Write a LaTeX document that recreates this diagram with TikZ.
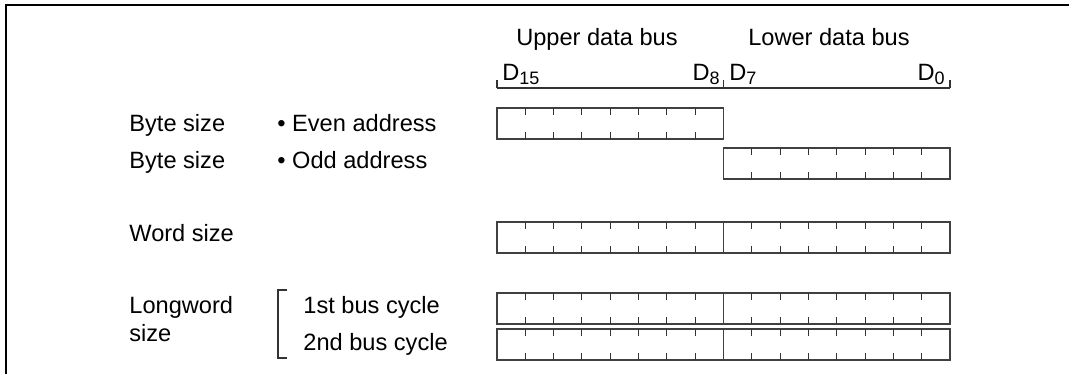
\documentclass[tikz,border=0pt]{standalone}
\usepackage{fontspec}
\setmainfont{Liberation Sans}
\usetikzlibrary{positioning,calc}

\newcommand{\byteticks}[1]{%
  \foreach \k in {1,...,7} {
    \draw[tick] ($(#1.north west)!\k/8!(#1.north east)$) -- ++(0,7);
    \draw[tick] ($(#1.south west)!\k/8!(#1.south east)$) -- ++(0,-7);
  }}
\newcommand{\dsub}[1]{D\raisebox{-0.28ex}{\fontsize{9}{10}\selectfont #1}}

\begin{document}
\begin{tikzpicture}[
    x=0.5pt, y=-0.5pt,
    lbl/.style={anchor=base west, inner sep=0pt, font=\fontsize{11.8}{14}\selectfont},
    bytebox/.style={rectangle, draw=black!75, line width=0.9pt, minimum width=113.25pt, minimum height=15.5pt, inner sep=0pt, outer sep=0pt, anchor=north west},
    tick/.style={line width=0.5pt, black!80},
    busline/.style={line width=0.6pt, black!80},
    frame/.style={line width=1.4pt}
]
\useasboundingbox (0,0) rectangle (1069,374);

% frame
\coordinate (ftop) at (6,5);
\coordinate (fright) at (1069,5);
\coordinate (fbot) at (6,374);
\draw[frame] (fbot) -- (ftop) -- (fright);

% bus heading
\node[lbl, anchor=base] (upper) at (597,46) {Upper data bus};
\node[lbl, anchor=base] (lower) at (829,46) {Lower data bus};
\coordinate (bus15) at (497,88);
\coordinate (bus8) at (723.5,88);
\coordinate (bus0) at (950,88);
\draw[busline] (bus15) -- (bus0);
\foreach \c in {bus15,bus8,bus0} \draw[busline] (\c) -- ++(0,-8);
\node[lbl] (d15) at (502,81) {\dsub{15}};
\node[lbl, anchor=base east] (d8) at (720,81) {\dsub{8}};
\node[lbl] (d7) at (729,81) {\dsub{7}};
\node[lbl, anchor=base east] (d0) at (945,81) {\dsub{0}};

% row labels
\node[lbl] (byteeven) at (129,132) {Byte size};
\node[lbl] (even) at (277,132) {\textbullet\ Even address};
\node[lbl] (byteodd) at (129,168) {Byte size};
\node[lbl] (odd) at (277,168) {\textbullet\ Odd address};
\node[lbl] (word) at (129,241) {Word size};
\node[lbl] (long) at (129,313) {Longword};
\node[lbl] (longb) at (129,341) {size};
\node[lbl] (cyc1) at (303,313) {1st bus cycle};
\node[lbl] (cyc2) at (303,350) {2nd bus cycle};

% bracket
\coordinate (brt) at (278,290);
\coordinate (brb) at (278,358);
\draw[busline] ($(brt)+(9,0)$) -- (brt) -- (brb) -- ++(9,0);

% byte boxes
\node[bytebox] (evenhi) at (497,108) {};
\node[bytebox] (oddlo) at (723.5,148) {};
\node[bytebox] (wordhi) at (497,222) {};
\node[bytebox, right=0pt of wordhi] (wordlo) {};
\node[bytebox] (longahi) at (497,293) {};
\node[bytebox, right=0pt of longahi] (longalo) {};
\node[bytebox] (longbhi) at (497,329) {};
\node[bytebox, right=0pt of longbhi] (longblo) {};

\foreach \b in {evenhi,oddlo,wordhi,wordlo,longahi,longalo,longbhi,longblo} {
  \byteticks{\b}
}
\end{tikzpicture}
\end{document}
